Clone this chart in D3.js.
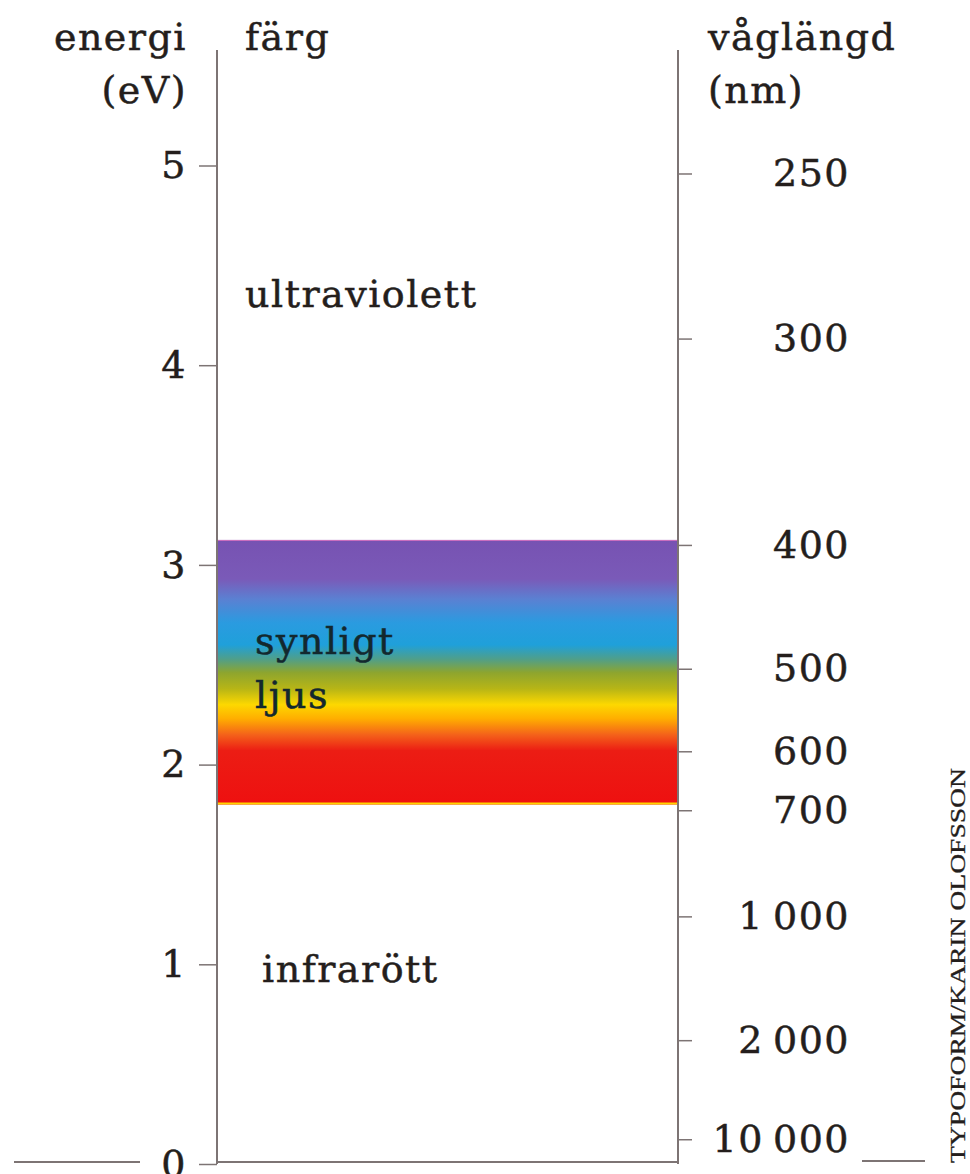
<!DOCTYPE html>
<html><head><meta charset="utf-8">
<script src="https://cdn.jsdelivr.net/npm/d3@7"></script>
<style>
html,body{margin:0;padding:0;background:#fff;overflow:hidden}
text{font-family:"DejaVu Serif","Liberation Serif",serif;fill:#241e1c;stroke:#241e1c;stroke-width:0.5px;letter-spacing:1.5px}
</style></head>
<body>
<svg id="c" width="970" height="1174"></svg>
<script>
// ---- data ----
const energyTicks = [0, 1, 2, 3, 4, 5];                 // eV
const wavelengthTicks = [250, 300, 400, 500, 600, 700, 1000, 2000, 10000]; // nm
const hc = 1240;                                         // eV·nm
const visibleRange = [1.80, 3.125];                      // eV, band limits
const spectrumEnergy = [3.125, 2.93, 2.83, 2.71, 2.60, 2.53, 2.46, 2.38, 2.30, 2.23, 2.15, 2.07, 1.80];
const spectrumColor  = ["#7752b2","#7a5ab8","#5b80d2","#2a9be0","#1fa0da","#4e9f8c","#8ea52e","#b7b516","#fdd800","#ffae00","#f4621a","#ec1d14","#ee1010"];
const regionLabels = [
  {lines:["ultraviolett"], e:4.29, dx:28},
  {lines:["synligt","ljus"], e:2.555, dx:38},
  {lines:["infrarött"], e:0.91, dx:45}
];

// ---- layout ----
const svg = d3.select("#c");
const xL = 217, xR = 678, yTop = 50;
const y = d3.scaleLinear().domain([0, 5]).range([1164, 165.5]);
const axisColor = "#7d7474";

// gradient
const defs = svg.append("defs");
const grad = defs.append("linearGradient").attr("id","spec")
  .attr("gradientUnits","userSpaceOnUse")
  .attr("x1",0).attr("x2",0).attr("y1",y(visibleRange[1])).attr("y2",y(visibleRange[0]));
const off = d3.scaleLinear().domain([y(visibleRange[1]), y(visibleRange[0])]).range([0,1]);
spectrumEnergy.forEach((e,i)=>{
  grad.append("stop").attr("offset",off(y(e))).attr("stop-color",spectrumColor[i]);
});
svg.append("rect").attr("x",xL+1).attr("width",xR-xL-2)
  .attr("y",y(visibleRange[1])).attr("height",y(visibleRange[0])-y(visibleRange[1]))
  .attr("fill","url(#spec)");
svg.append("line").attr("x1",xL+1).attr("x2",xR-1)
  .attr("y1",y(visibleRange[0])-1).attr("y2",y(visibleRange[0])-1)
  .attr("stroke","#ffd400").attr("stroke-width",2);
svg.append("line").attr("x1",xL+1).attr("x2",xR-1)
  .attr("y1",y(visibleRange[1])+0.5).attr("y2",y(visibleRange[1])+0.5)
  .attr("stroke","#d070c0").attr("stroke-width",1);

// left axis
const gL = svg.append("g").attr("transform",`translate(${xL},0)`)
  .call(d3.axisLeft(y).tickValues(energyTicks).tickSize(18).tickFormat(d3.format("d")));
gL.select(".domain").remove();
gL.selectAll(".tick line").attr("stroke",axisColor).attr("stroke-width",1.5);
gL.selectAll(".tick text").attr("x",-30).attr("font-size",38).attr("fill","#241e1c")
  .style("font-family","'DejaVu Serif',serif");
svg.append("line").attr("x1",xL).attr("x2",xL).attr("y1",yTop).attr("y2",y(0))
  .attr("stroke",axisColor).attr("stroke-width",2);

// right axis
const fmt = d3.formatLocale({decimal:",",thousands:"\u2009",grouping:[3],currency:["",""]}).format(",d");
const gR = svg.append("g").attr("transform",`translate(${xR},0)`)
  .call(d3.axisRight(y).tickValues(wavelengthTicks.map(l=>hc/l)).tickSize(14)
    .tickFormat(e=>fmt(Math.round(hc/e))));
gR.select(".domain").remove();
gR.selectAll(".tick line").attr("stroke",axisColor).attr("stroke-width",1.5);
gR.selectAll(".tick text").attr("x",172).attr("text-anchor","end").attr("font-size",38)
  .attr("fill","#241e1c").style("font-family","'DejaVu Serif',serif");
svg.append("line").attr("x1",xR).attr("x2",xR).attr("y1",yTop).attr("y2",y(0))
  .attr("stroke",axisColor).attr("stroke-width",2);

// baseline and stubs at 0 eV
svg.append("line").attr("x1",xL).attr("x2",xR).attr("y1",y(0)-2).attr("y2",y(0)-2)
  .attr("stroke",axisColor).attr("stroke-width",2);
svg.append("line").attr("x1",14).attr("x2",140).attr("y1",y(0)-2).attr("y2",y(0)-2)
  .attr("stroke",axisColor).attr("stroke-width",2);
svg.append("line").attr("x1",862).attr("x2",925).attr("y1",y(0)-3).attr("y2",y(0)-3)
  .attr("stroke",axisColor).attr("stroke-width",2);

// titles
const t = (txt,x,yy,anchor)=>svg.append("text").attr("x",x).attr("y",yy)
  .attr("text-anchor",anchor||"start").attr("font-size",38).text(txt);
t("energi",187,50,"end");
t("(eV)",187,103,"end");
t("färg",245,50);
t("våglängd",708,50);
t("(nm)",708,103);

// region labels
regionLabels.forEach(r=>{
  r.lines.forEach((ln,i)=>{
    const c = r.lines.length>1?"#13282e":"#241e1c";
    svg.append("text").attr("x",xL+r.dx).attr("y",y(r.e)+i*54)
      .attr("font-size",38).style("fill",c).style("stroke",c).text(ln);
  });
});

// credit
svg.append("text").attr("transform","translate(965,1163) rotate(-90)")
  .attr("font-size",22).attr("textLength",395).attr("lengthAdjust","spacingAndGlyphs")
  .style("font-family","'Liberation Serif',serif").style("letter-spacing","0px")
  .style("stroke-width","0.3px")
  .text("TYPOFORM/KARIN OLOFSSON");
</script>
</body></html>
